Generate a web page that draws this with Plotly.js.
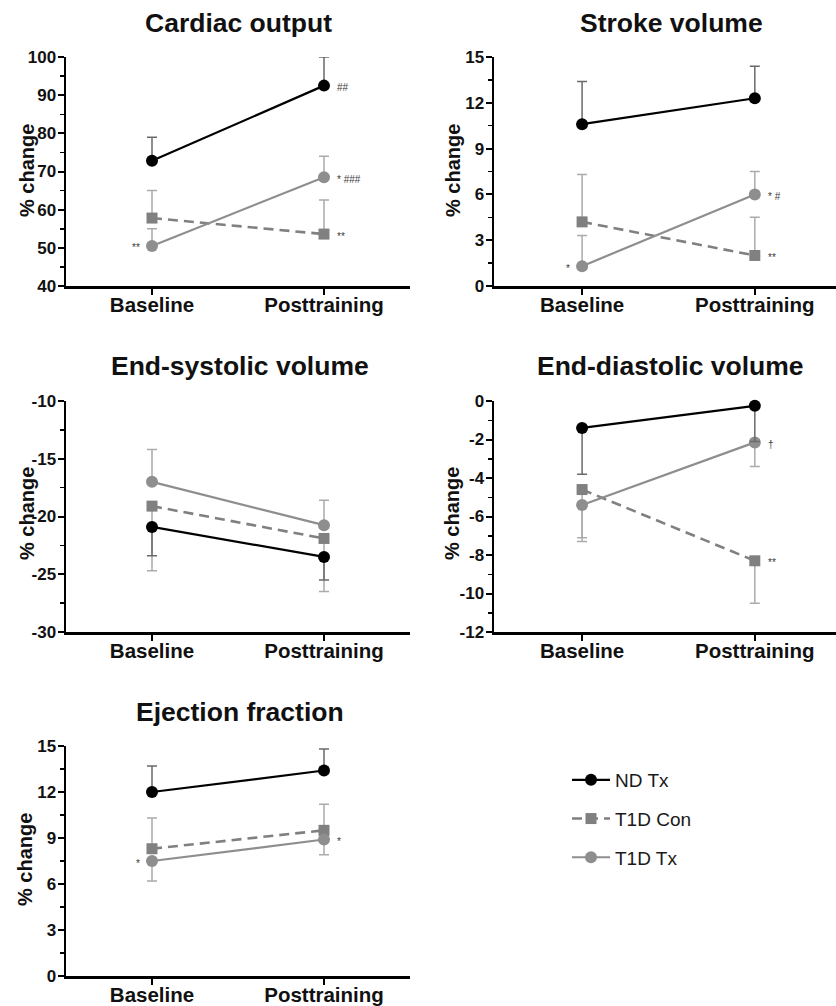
<!DOCTYPE html>
<html>
<head>
<meta charset="utf-8">
<script src="https://cdn.plot.ly/plotly-3.0.1.min.js"></script>
<style>html,body{margin:0;padding:0;background:#fff;}</style>
</head>
<body>
<div id="chart" style="width:836px;height:1006px;"></div>
<script>
// ---------------- DATA ----------------
const categories = ["Baseline", "Posttraining"];
const seriesNames = ["ND Tx", "T1D Con", "T1D Tx"];
const panelTitles = ["Cardiac output", "Stroke volume", "End-systolic volume", "End-diastolic volume", "Ejection fraction"];
const yAxisLabel = "% change";

// Cardiac output
const coNDTx = [72.8, 92.5];      const coNDTxUp = [6.2, 7.5];   const coNDTxDown = [0, 0];
const coT1DCon = [57.8, 53.6];    const coT1DConUp = [7.2, 8.9]; const coT1DConDown = [0, 0];
const coT1DTx = [50.5, 68.5];     const coT1DTxUp = [4.5, 5.5];  const coT1DTxDown = [0, 0];
const coTickVals = [40, 50, 60, 70, 80, 90, 100];
const coTickText = ["40", "50", "60", "70", "80", "90", "100"];
const coMarks = [["tx", 0, "**"], ["nd", 1, "##"], ["tx", 1, "* ###"], ["con", 1, "**"]];

// Stroke volume
const svNDTx = [10.6, 12.3];      const svNDTxUp = [2.8, 2.1];   const svNDTxDown = [0, 0];
const svT1DCon = [4.2, 2.0];      const svT1DConUp = [3.1, 2.5]; const svT1DConDown = [0, 0];
const svT1DTx = [1.3, 6.0];       const svT1DTxUp = [2.0, 1.5];  const svT1DTxDown = [0, 0];
const svTickVals = [0, 3, 6, 9, 12, 15];
const svTickText = ["0", "3", "6", "9", "12", "15"];
const svMarks = [["tx", 0, "*"], ["tx", 1, "* #"], ["con", 1, "**"]];

// End-systolic volume
const esNDTx = [-20.9, -23.5];    const esNDTxUp = [0, 0];       const esNDTxDown = [2.5, 2.0];
const esT1DCon = [-19.1, -21.9];  const esT1DConUp = [0, 0];     const esT1DConDown = [5.6, 4.6];
const esT1DTx = [-17.0, -20.75];  const esT1DTxUp = [2.8, 2.15]; const esT1DTxDown = [0, 0];
const esTickVals = [-30, -25, -20, -15, -10];
const esTickText = ["-30", "-25", "-20", "-15", "-10"];
const esMarks = [];

// End-diastolic volume
const edNDTx = [-1.4, -0.25];     const edNDTxUp = [0, 0];       const edNDTxDown = [2.4, 1.85];
const edT1DCon = [-4.6, -8.3];    const edT1DConUp = [0, 0];     const edT1DConDown = [2.5, 2.2];
const edT1DTx = [-5.4, -2.15];    const edT1DTxUp = [0, 0];      const edT1DTxDown = [1.9, 1.25];
const edTickVals = [-12, -10, -8, -6, -4, -2, 0];
const edTickText = ["-12", "-10", "-8", "-6", "-4", "-2", "0"];
const edMarks = [["tx", 1, "\u2020"], ["con", 1, "**"]];

// Ejection fraction
const efNDTx = [12.0, 13.4];      const efNDTxUp = [1.7, 1.4];   const efNDTxDown = [0, 0];
const efT1DCon = [8.3, 9.5];      const efT1DConUp = [2.0, 1.7]; const efT1DConDown = [0, 0];
const efT1DTx = [7.5, 8.9];       const efT1DTxUp = [0, 0];      const efT1DTxDown = [1.3, 1.0];
const efTickVals = [0, 3, 6, 9, 12, 15];
const efTickText = ["0", "3", "6", "9", "12", "15"];
const efMarks = [["tx", 0, "*"], ["tx", 1, "*"]];

// ---------------- CONFIG ----------------
const W = 836, H = 1006;
const FONT = "Arial, 'Liberation Sans', Helvetica, sans-serif";
const colDomains = [[66, 410], [494, 836]];
const colRanges = [[-0.5, 1.5], [-0.51, 1.47]];
const rowDomains = [[57, 286], [401, 632], [746, 976]];
const titlePos = [[238, 23], [671, 23], [240, 366], [670, 366], [240, 712]];
const yTitlePos = [[27, 171], [453, 171], [27, 514], [452, 514], [25, 860]];

const panels = [
  {nd: [coNDTx, coNDTxUp, coNDTxDown], con: [coT1DCon, coT1DConUp, coT1DConDown], tx: [coT1DTx, coT1DTxUp, coT1DTxDown],
   tv: coTickVals, tt: coTickText, marks: coMarks, col: 0, row: 0},
  {nd: [svNDTx, svNDTxUp, svNDTxDown], con: [svT1DCon, svT1DConUp, svT1DConDown], tx: [svT1DTx, svT1DTxUp, svT1DTxDown],
   tv: svTickVals, tt: svTickText, marks: svMarks, col: 1, row: 0},
  {nd: [esNDTx, esNDTxUp, esNDTxDown], con: [esT1DCon, esT1DConUp, esT1DConDown], tx: [esT1DTx, esT1DTxUp, esT1DTxDown],
   tv: esTickVals, tt: esTickText, marks: esMarks, col: 0, row: 1},
  {nd: [edNDTx, edNDTxUp, edNDTxDown], con: [edT1DCon, edT1DConUp, edT1DConDown], tx: [edT1DTx, edT1DTxUp, edT1DTxDown],
   tv: edTickVals, tt: edTickText, marks: edMarks, col: 1, row: 1},
  {nd: [efNDTx, efNDTxUp, efNDTxDown], con: [efT1DCon, efT1DConUp, efT1DConDown], tx: [efT1DTx, efT1DTxUp, efT1DTxDown],
   tv: efTickVals, tt: efTickText, marks: efMarks, col: 0, row: 2}
];

const styles = {
  nd:  {name: seriesNames[0], rank: 1, color: "#000000", width: 2.2, dash: "solid", symbol: "circle", size: 12, err: "#6a6a6a"},
  con: {name: seriesNames[1], rank: 2, color: "#808080", width: 2.6, dash: "10px,6px", symbol: "square", size: 11, err: "#ababab"},
  tx:  {name: seriesNames[2], rank: 3, color: "#8e8e8e", width: 2.2, dash: "solid", symbol: "circle", size: 12, err: "#ababab"}
};

const traces = [];
const annotations = [];
const layout = {
  width: W, height: H,
  margin: {l: 0, r: 0, t: 0, b: 0, pad: 0},
  paper_bgcolor: "#ffffff", plot_bgcolor: "#ffffff",
  font: {family: FONT, color: "#111111"},
  showlegend: true,
  legend: {
    x: 567 / W, xanchor: "left", y: 1 - 761 / H, yanchor: "top",
    font: {family: FONT, size: 19, color: "#1a1a1a"},
    traceorder: "grouped", tracegroupgap: 11, itemwidth: 38,
    bgcolor: "rgba(0,0,0,0)", borderwidth: 0
  },
  annotations: annotations
};

panels.forEach((p, i) => {
  const n = i + 1;
  const sfx = n === 1 ? "" : String(n);
  const xa = "x" + sfx, ya = "y" + sfx;
  const cd = colDomains[p.col], rd = rowDomains[p.row];

  ["con", "tx", "nd"].forEach(key => {
    const s = styles[key];
    const d = p[key];
    traces.push({
      type: "scatter", mode: "lines+markers",
      x: categories, y: d[0], xaxis: xa, yaxis: ya,
      name: s.name, legendgroup: key, legendrank: s.rank, showlegend: i === 0,
      line: {color: s.color, width: s.width, dash: s.dash},
      marker: {symbol: s.symbol, size: s.size, color: s.color, line: {width: 0}},
      error_y: {type: "data", symmetric: false, array: d[1], arrayminus: d[2],
                color: s.err, thickness: 1.5, width: 5},
      cliponaxis: false, hoverinfo: "skip"
    });
  });

  // minor ticks at midpoints of major ticks
  const minorVals = [];
  for (let k = 0; k < p.tv.length - 1; k++) minorVals.push((p.tv[k] + p.tv[k + 1]) / 2);

  layout["xaxis" + sfx] = {
    domain: [cd[0] / W, cd[1] / W], anchor: ya, type: "category",
    range: colRanges[p.col], showgrid: false, zeroline: false,
    showline: true, linecolor: "#000000", linewidth: 2.5,
    ticks: "outside", ticklen: 6, tickwidth: 2, tickcolor: "#000000",
    ticklabelstandoff: -7,
    tickfont: {family: FONT, size: 20.5, weight: "bold", color: "#111111"},
    fixedrange: true
  };
  layout["yaxis" + sfx] = {
    domain: [1 - rd[1] / H, 1 - rd[0] / H], anchor: xa,
    range: [p.tv[0], p.tv[p.tv.length - 1]],
    tickmode: "array", tickvals: p.tv, ticktext: p.tt,
    showgrid: false, zeroline: false,
    showline: true, linecolor: "#000000", linewidth: 2.5,
    ticks: "outside", ticklen: 6, tickwidth: 2, tickcolor: "#000000",
    ticklabelstandoff: -2,
    minor: {tickmode: "array", tickvals: minorVals, ticks: "outside", ticklen: 3.5, tickwidth: 1.5, tickcolor: "#000000", showgrid: false},
    tickfont: {family: FONT, size: 17, weight: "bold", color: "#111111"},
    fixedrange: true
  };

  // subplot title
  annotations.push({
    xref: "paper", yref: "paper", x: titlePos[i][0] / W, y: 1 - titlePos[i][1] / H,
    xanchor: "center", yanchor: "middle", showarrow: false,
    text: panelTitles[i], font: {family: FONT, size: 26.5, weight: "bold", color: "#111111"}
  });
  // y-axis title
  annotations.push({
    xref: "paper", yref: "paper", x: yTitlePos[i][0] / W, y: 1 - yTitlePos[i][1] / H,
    xanchor: "center", yanchor: "middle", showarrow: false, textangle: -90,
    text: yAxisLabel, font: {family: FONT, size: 20, weight: "bold", color: "#111111"}
  });
  // significance marks
  p.marks.forEach(m => {
    const key = m[0], c = m[1];
    annotations.push({
      xref: xa, yref: ya, x: categories[c], y: p[key][0][c],
      xanchor: c === 0 ? "right" : "left", yanchor: "middle",
      xshift: c === 0 ? -10 : 11, yshift: -2, showarrow: false,
      text: m[2], font: {family: FONT, size: 10, color: "#3a3a3a"}
    });
  });
});

Plotly.newPlot("chart", traces, layout, {staticPlot: true, displayModeBar: false});
</script>
</body>
</html>
